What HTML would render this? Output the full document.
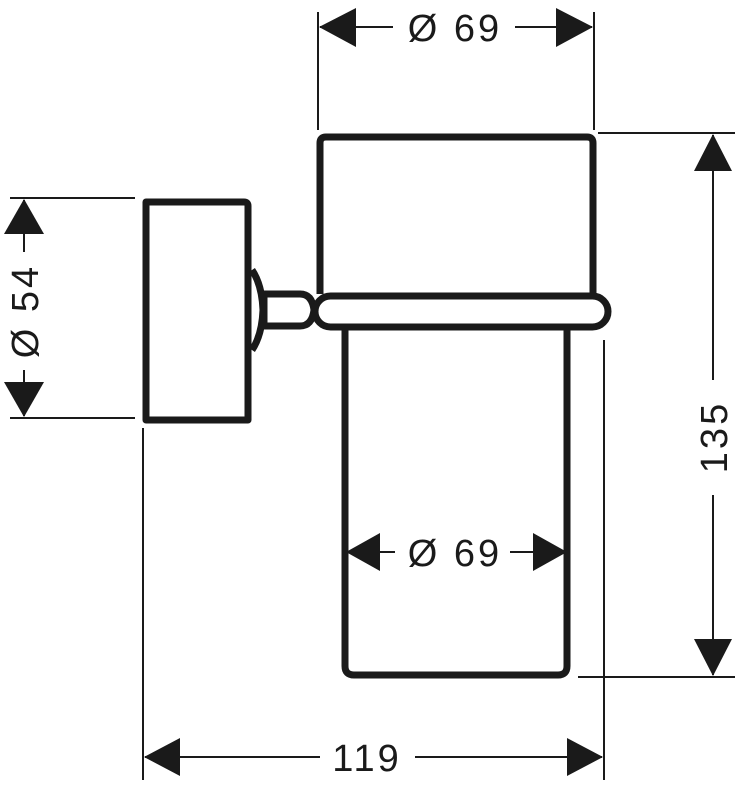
<!DOCTYPE html>
<html><head><meta charset="utf-8"><style>
html,body{margin:0;padding:0;background:#fff;}
svg{display:block;}
text{font-family:"Liberation Sans","DejaVu Sans",sans-serif;font-size:38px;fill:#1a1a1a;letter-spacing:3px;}
</style></head><body>
<svg width="743" height="791" viewBox="0 0 743 791" xmlns="http://www.w3.org/2000/svg">
<g fill="none" stroke="#1a1a1a" stroke-width="7" stroke-linejoin="round">
  <!-- wall block -->
  <path d="M146 420 V202 H244 Q248 202 248 206 V420 Z"/>
  <!-- flange -->
  <path d="M252 270 Q262 285 263 310 Q262 335 252 350"/>
  <line x1="264" y1="292" x2="264" y2="328"/>
  <!-- arm -->
  <path d="M264 294 H300 Q312 294 314 310 Q312 326 300 326 H264"/>
  <!-- top holder -->
  <path d="M320 294 V143 Q320 137 326 137 H587 Q593 137 593 143 V294"/>
  <!-- ring -->
  <rect x="315" y="296" width="293" height="31" rx="15.5"/>
  <!-- glass -->
  <path d="M345 327 V666 Q345 675 354 675 H558 Q567 675 567 666 V327"/>
</g>
<g stroke="#1a1a1a" stroke-width="2" fill="none">
  <!-- top dim -->
  <line x1="318" y1="12" x2="318" y2="130"/>
  <line x1="594" y1="12" x2="594" y2="130"/>
  <line x1="320" y1="27" x2="393" y2="27"/>
  <line x1="515" y1="27" x2="592" y2="27"/>
  <!-- right dim -->
  <line x1="598" y1="133" x2="735" y2="133"/>
  <line x1="578" y1="677" x2="735" y2="677"/>
  <line x1="713" y1="135" x2="713" y2="380"/>
  <line x1="713" y1="495" x2="713" y2="675"/>
  <!-- left dim -->
  <line x1="10" y1="198" x2="135" y2="198"/>
  <line x1="10" y1="418" x2="135" y2="418"/>
  <line x1="24" y1="200" x2="24" y2="252"/>
  <line x1="24" y1="370" x2="24" y2="416"/>
  <!-- bottom dim -->
  <line x1="143" y1="428" x2="143" y2="780"/>
  <line x1="604" y1="340" x2="604" y2="780"/>
  <line x1="145" y1="757" x2="320" y2="757"/>
  <line x1="415" y1="757" x2="602" y2="757"/>
  <!-- inner dim -->
  <line x1="347" y1="552" x2="395" y2="552"/>
  <line x1="510" y1="552" x2="566" y2="552"/>
</g>
<g fill="#1a1a1a">
  <polygon points="319,27 356,8 356,47"/>
  <polygon points="593,27 556,8 556,47"/>
  <polygon points="713,134 694,171 732,171"/>
  <polygon points="713,676 694,639 732,639"/>
  <polygon points="24,199 4,234 44,234"/>
  <polygon points="24,417 4,382 44,382"/>
  <polygon points="144,757 180,738 180,776"/>
  <polygon points="603,757 567,738 567,776"/>
  <polygon points="346,552 380,533 380,571"/>
  <polygon points="567,552 533,533 533,571"/>
</g>
<text x="455" y="41" text-anchor="middle">Ø 69</text>
<text x="455" y="566" text-anchor="middle">Ø 69</text>
<text x="367" y="771" text-anchor="middle">119</text>
<text transform="translate(727,437) rotate(-90)" text-anchor="middle">135</text>
<text transform="translate(38,311) rotate(-90)" text-anchor="middle">Ø 54</text>
</svg>
</body></html>
